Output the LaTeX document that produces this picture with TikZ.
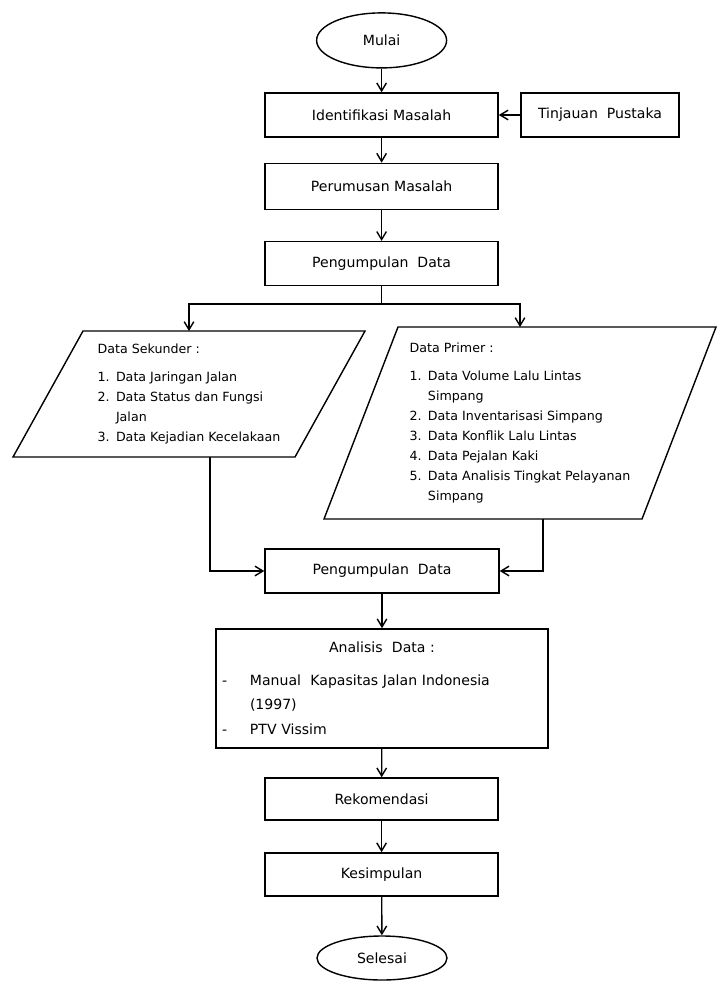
\documentclass[tikz,border=0pt]{standalone}
\usepackage{fontspec}
\setmainfont{DejaVu Sans}
\usetikzlibrary{arrows.meta,shapes.geometric}
\newcommand\litem[2]{\makebox[4.6mm][l]{#1}#2}
\begin{document}
\begin{tikzpicture}[>={Straight Barb[length=2mm,width=2.4mm]}, line width=1pt,
    box/.style={draw, rectangle, minimum width=58.25mm, minimum height=11mm,
      font=\fontsize{10}{12}\selectfont},
    term/.style={draw, ellipse, minimum width=32.5mm, minimum height=12mm,
      font=\fontsize{10}{12}\selectfont},
    io/.style={rectangle, inner sep=0pt, outer sep=0pt, align=left,
      font=\fontsize{9}{14.2}\selectfont}]
    \useasboundingbox (0,0) rectangle (179.25mm,-245.5mm);

    \node[term, minimum height=13.75mm] (mulai) at (95.4mm,-10.1mm) {Mulai};
    \node[box] (ident) at (95.4mm,-28.75mm) {Identifikasi Masalah};
    \node[box, minimum width=39.5mm] (tinjau) at (150mm,-28.75mm) {Tinjauan\ \ Pustaka};
    \node[box, minimum height=11.5mm] (perum) at (95.4mm,-46.6mm) {Perumusan Masalah};
    \node[box] (peng1) at (95.4mm,-65.9mm) {Pengumpulan\ \ Data};
    \coordinate (split) at (95.4mm,-76mm);

    \node[io, minimum width=88mm, minimum height=31.5mm] (sek) at (47.25mm,-98.5mm)
    {Data Sekunder :\\[1.8mm]
      \litem{1.}{Data Jaringan Jalan}\\
      \litem{2.}{Data Status dan Fungsi}\\
      \litem{}{Jalan}\\
      \litem{3.}{Data Kejadian Kecelakaan}};
    \draw ([xshift=17.5mm]sek.north west) -- (sek.north east)
    -- ([xshift=-17.5mm]sek.south east) -- (sek.south west) -- cycle;

    \node[io, minimum width=98mm, minimum height=48mm] (prim) at (130mm,-105.75mm)
    {Data Primer :\\[2mm]
      \litem{1.}{Data Volume Lalu Lintas}\\
      \litem{}{Simpang}\\
      \litem{2.}{Data Inventarisasi Simpang}\\
      \litem{3.}{Data Konflik Lalu Lintas}\\
      \litem{4.}{Data Pejalan Kaki}\\
      \litem{5.}{Data Analisis Tingkat Pelayanan}\\
      \litem{}{Simpang}};
    \draw ([xshift=18.5mm]prim.north west) -- (prim.north east)
    -- ([xshift=-18.5mm]prim.south east) -- (prim.south west) -- cycle;

    \node[box, minimum width=58.5mm] (peng2) at (95.5mm,-142.75mm) {Pengumpulan\ \ Data};
    \node[box, minimum width=83mm, minimum height=29.75mm, text width=80mm,
      inner xsep=1.5mm, align=left, font=\fontsize{10}{17.5}\selectfont] (ana) at (95.5mm,-172.1mm)
    {\makebox[80mm]{Analisis\ \ Data :}\\[2mm]
      \makebox[7mm][l]{-}Manual\ \ Kapasitas Jalan Indonesia\\
      \hspace*{7mm}(1997)\\
      \makebox[7mm][l]{-}PTV Vissim};
    \node[box, minimum height=10.5mm] (rekom) at (95.4mm,-199.75mm) {Rekomendasi};
    \node[box, minimum height=10.75mm] (kesim) at (95.4mm,-218.6mm) {Kesimpulan};
    \node[term, minimum height=11mm] (selesai) at (95.5mm,-239.5mm) {Selesai};

    \draw[->] (mulai) -- (ident);
    \draw[->] (tinjau) -- (ident);
    \draw[->] (ident) -- (perum);
    \draw[->] (perum) -- (peng1);
    \draw (peng1) -- (split);
    \draw[->] (split) -| (sek.north);
    \draw[->] (split) -| (prim.north);
    \draw[->] ([xshift=5.25mm]sek.south) |- (peng2.west);
    \draw[->] ([xshift=5.75mm]prim.south) |- (peng2.east);
    \draw[->] (peng2) -- (ana);
    \draw[->] (ana) -- (rekom);
    \draw[->] (rekom) -- (kesim);
    \draw[->] (kesim) -- (selesai);
  \end{tikzpicture}
\end{document}
